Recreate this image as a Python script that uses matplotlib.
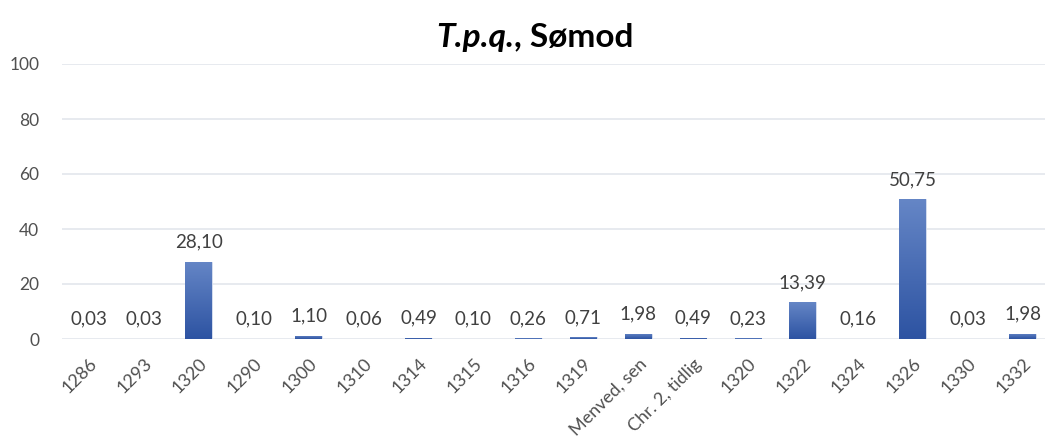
import matplotlib.pyplot as plt
import numpy as np

categories = ["1286", "1293", "1320", "1290", "1300", "1310", "1314", "1315", "1316",
              "1319", "Menved, sen", "Chr. 2, tidlig", "1320", "1322", "1324", "1326",
              "1330", "1332"]
values = [0.03, 0.03, 28.10, 0.10, 1.10, 0.06, 0.49, 0.10, 0.26,
          0.71, 1.98, 0.49, 0.23, 13.39, 0.16, 50.75, 0.03, 1.98]
yticks = [0, 20, 40, 60, 80, 100]

plt.rcParams['font.family'] = ['Lato', 'DejaVu Sans']

fig = plt.figure(figsize=(10.45, 4.45), dpi=100)
ax = fig.add_axes([61.5 / 1045, 1 - 339 / 445, (1050 - 61.5) / 1045, 275 / 445])

x = np.arange(len(categories))
bars = ax.bar(x, values, width=0.49, color="#4468B4", edgecolor="#DCE3F2", linewidth=0.6, zorder=2)

# Excel-style vertical gradient inside each bar
grad = np.linspace(0, 1, 256).reshape(-1, 1)
cmap = plt.matplotlib.colors.LinearSegmentedColormap.from_list("g", ["#2D53A2", "#6586C6"])
for b in bars:
    x0, w, h = b.get_x(), b.get_width(), b.get_height()
    im = ax.imshow(grad, extent=(x0, x0 + w, 0, h), origin="lower", aspect="auto",
                   cmap=cmap, zorder=2.5)
    im.set_clip_path(b)
ax.set_xlim(-0.5, len(categories) - 0.5)
ax.set_ylim(0, 100)

for xi, v in zip(x, values):
    ax.annotate(f"{v:.2f}".replace(".", ","), (xi, v), xytext=(0, 8), textcoords="offset points",
                ha="center", va="bottom", fontsize=13.5, color="#404040")

ax.set_yticks(yticks)
ax.grid(axis="y", color="#E3E6EC", linewidth=1.2, zorder=0)
ax.set_axisbelow(True)
for s in ax.spines.values():
    s.set_visible(False)
ax.tick_params(axis="both", length=0, labelsize=12.5, labelcolor="#505050")
ax.tick_params(axis="y", pad=16)
ax.set_xticks(x)
ax.set_xticklabels(categories, rotation=45, ha="right", va="top", rotation_mode="anchor",
                   fontsize=13)
ax.tick_params(axis="x", pad=12)

# title: italic part + plain bold part
ty = 1 - 37 / 445
t1 = fig.text(0, ty, "T.p.q.", fontsize=24, fontweight="bold", fontstyle="italic", va="center")
t2 = fig.text(0, ty, ", Sømod", fontsize=24, fontweight="bold", va="center")
fig.canvas.draw()
r = fig.canvas.get_renderer()
w1 = t1.get_window_extent(r).width / fig.bbox.width
w2 = t2.get_window_extent(r).width / fig.bbox.width
left = 535 / 1045 - (w1 + w2) / 2
t1.set_x(left)
t2.set_x(left + w1)

fig.savefig("out.png", dpi=100)
